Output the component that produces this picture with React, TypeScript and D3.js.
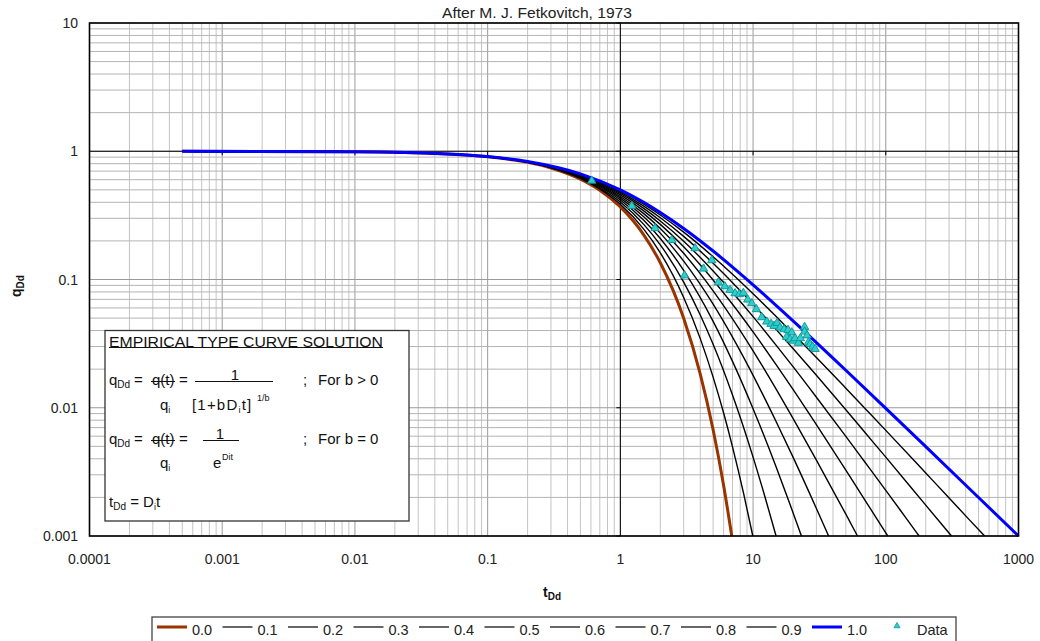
import React from "react";
import * as d3 from "d3";

// Arps type curves: [tDd, qDd] pairs for each b value
const bLabels = ["0.0", "0.1", "0.2", "0.3", "0.4", "0.5", "0.6", "0.7", "0.8", "0.9", "1.0"];

const curve00: [number, number][] = [
  [0.0005, 1], [0.01, 0.99], [0.05, 0.951], [0.1, 0.905], [0.2, 0.819], [0.3, 0.741], [0.5, 0.607],
  [0.7, 0.497], [1, 0.368], [1.5, 0.223], [2, 0.135], [3, 0.0498], [4, 0.0183], [5, 0.00674],
  [6, 0.00248], [6.908, 0.001],
];
const curve01: [number, number][] = [
  [0.0005, 1], [0.01, 0.99], [0.05, 0.951], [0.1, 0.905], [0.2, 0.82], [0.3, 0.744], [0.5, 0.614],
  [0.7, 0.508], [1, 0.386], [1.5, 0.247], [2, 0.1615], [3, 0.0725], [4, 0.0346], [5, 0.01734],
  [6, 0.0091], [7, 0.00496], [8.5, 0.00213], [9.953, 0.001],
];
const curve02: [number, number][] = [
  [0.0005, 1], [0.01, 0.99], [0.05, 0.951], [0.1, 0.905], [0.2, 0.822], [0.5, 0.621], [1, 0.402],
  [1.5, 0.269], [2, 0.186], [3, 0.0954], [4, 0.0529], [5, 0.03125], [7, 0.01256], [10, 0.00412],
  [12.5, 0.0019], [14.905, 0.001],
];
const curve03: [number, number][] = [
  [0.0005, 1], [0.01, 0.99], [0.05, 0.951], [0.1, 0.906], [0.2, 0.823], [0.5, 0.628], [1, 0.417],
  [1.5, 0.29], [2, 0.209], [3, 0.1177], [5, 0.0472], [7, 0.023], [10, 0.00984], [15, 0.00341],
  [19, 0.00176], [23.14, 0.001],
];
const curve04: [number, number][] = [
  [0.0005, 1], [0.01, 0.99], [0.05, 0.951], [0.1, 0.906], [0.2, 0.825], [0.5, 0.634], [1, 0.431],
  [1.5, 0.309], [2, 0.23], [3, 0.139], [5, 0.0642], [7, 0.0355], [10, 0.0179], [15, 0.00771],
  [20, 0.00412], [30, 0.00164], [37.1, 0.001],
];
const curve05: [number, number][] = [
  [0.0005, 1], [0.01, 0.99], [0.05, 0.952], [0.1, 0.907], [0.2, 0.826], [0.5, 0.64], [1, 0.444],
  [1.5, 0.3265], [2, 0.25], [3, 0.16], [5, 0.0816], [7, 0.0494], [10, 0.0278], [15, 0.01384],
  [20, 0.00826], [30, 0.00391], [50, 0.00148], [61.2, 0.001],
];
const curve06: [number, number][] = [
  [0.0005, 1], [0.01, 0.99], [0.05, 0.952], [0.1, 0.907], [0.2, 0.828], [0.5, 0.646], [1, 0.457],
  [1.5, 0.343], [2, 0.269], [3, 0.18], [5, 0.0992], [7, 0.0641], [10, 0.039], [15, 0.0215],
  [20, 0.01392], [30, 0.00739], [50, 0.00327], [70, 0.00189], [103.5, 0.001],
];
const curve07: [number, number][] = [
  [0.0005, 1], [0.01, 0.99], [0.05, 0.952], [0.1, 0.908], [0.2, 0.829], [0.5, 0.651], [1, 0.469],
  [1.5, 0.359], [2, 0.286], [3, 0.199], [5, 0.1166], [7, 0.0792], [10, 0.0513], [15, 0.0305],
  [20, 0.0209], [30, 0.01208], [50, 0.00598], [70, 0.00374], [100, 0.00227], [140, 0.00141],
  [178.4, 0.001],
];
const curve08: [number, number][] = [
  [0.0005, 1], [0.01, 0.99], [0.05, 0.952], [0.1, 0.908], [0.2, 0.831], [0.5, 0.657], [1, 0.48],
  [1.5, 0.373], [2, 0.303], [3, 0.217], [5, 0.1337], [7, 0.0945], [10, 0.0642], [15, 0.0405],
  [20, 0.029], [30, 0.0179], [50, 0.00964], [70, 0.00638], [100, 0.00412], [200, 0.00174],
  [312.7, 0.001],
];
const curve09: [number, number][] = [
  [0.0005, 1], [0.01, 0.99], [0.05, 0.952], [0.1, 0.909], [0.2, 0.832], [0.5, 0.662], [1, 0.49],
  [1.5, 0.387], [2, 0.3185], [3, 0.234], [5, 0.1505], [7, 0.1099], [10, 0.0774], [15, 0.0512],
  [20, 0.0379], [30, 0.0247], [50, 0.01421], [70, 0.00984], [100, 0.00666], [200, 0.0031],
  [300, 0.00198], [420, 0.00136], [555.8, 0.001],
];
const curve10: [number, number][] = [
  [0.0005, 1], [0.01, 0.99], [0.05, 0.952], [0.1, 0.909], [0.2, 0.833], [0.5, 0.667], [1, 0.5],
  [1.5, 0.4], [2, 0.333], [3, 0.25], [5, 0.1667], [7, 0.125], [10, 0.0909], [20, 0.0476],
  [50, 0.0196], [100, 0.0099], [200, 0.004975], [500, 0.001996], [1000, 0.001],
];
const typeCurves = [curve00, curve01, curve02, curve03, curve04, curve05, curve06, curve07, curve08, curve09, curve10];

// well data (triangles)
const dataT = [
  0.609, 1.219, 1.826, 2.44, 3.656, 4.885, 4.236, 3.046, 5.476, 6.12, 6.71, 7.32, 7.88, 8.45,
  9.12, 9.78, 10.59, 11.63, 12.69, 13.66, 14.39, 15.17, 15.98, 17.13, 18.35, 19.56, 17.88, 19.0,
  20.12, 20.72, 21.95, 22.72, 24.44, 24.44, 25.52, 26.11, 26.9, 28.08, 29.33,
];
const dataQ = [
  0.589, 0.374, 0.251, 0.203, 0.175, 0.141, 0.1214, 0.1074, 0.0948, 0.0885, 0.0828, 0.078, 0.0767,
  0.0785, 0.0696, 0.0652, 0.0586, 0.0507, 0.0469, 0.045, 0.0434, 0.0458, 0.0421, 0.0409, 0.0404,
  0.0386, 0.0356, 0.0342, 0.0333, 0.0348, 0.032, 0.0348, 0.0426, 0.0392, 0.0366, 0.0323, 0.0314,
  0.0299, 0.0287,
];

const xTickValues = [0.0001, 0.001, 0.01, 0.1, 1, 10, 100, 1000];
const xTickLabels = ["0.0001", "0.001", "0.01", "0.1", "1", "10", "100", "1000"];
const yTickValues = [0.001, 0.01, 0.1, 1, 10];
const yTickLabels = ["0.001", "0.01", "0.1", "1", "10"];

const W = 1040;
const H = 641;
const plot = { left: 89.5, right: 1018.5, top: 23, bottom: 536 };
const FONT = "'Liberation Sans', Arial, sans-serif";

const curveColor = (i: number) => (i === 0 ? "#993300" : i === 10 ? "#0000ff" : "#000000");
const curveWidth = (i: number) => (i === 0 || i === 10 ? 3 : 1.4);

export default function App() {
  const x = d3.scaleLog().domain([1e-4, 1e3]).range([plot.left, plot.right]);
  const y = d3.scaleLog().domain([1e-3, 10]).range([plot.bottom, plot.top]);

  const line = d3
    .line<[number, number]>()
    .x((d) => x(d[0]))
    .y((d) => y(d[1]))
    .curve(d3.curveMonotoneX);

  const tri = d3.symbol().type(d3.symbolTriangle).size(30)();
  const triSmall = d3.symbol().type(d3.symbolTriangle).size(16)();

  const xGrid = x.ticks();
  const yGrid = y.ticks();
  const isMajor = (v: number) => Math.abs(Math.log10(v) - Math.round(Math.log10(v))) < 1e-6;

  const legendX0 = 157;
  const legendStep = 65.5;
  const legendY = 627;

  return (
    <svg width={W} height={H} style={{ position: "absolute", left: 0, top: 0, background: "#fff" }} fontFamily={FONT}>
      <rect x={0} y={0} width={W} height={H} fill="#fff" />
      {/* title */}
      <text x={537} y={18} fontSize={14.5} textAnchor="middle" fill="#222" textLength={190} lengthAdjust="spacingAndGlyphs">
        After M. J. Fetkovitch, 1973
      </text>

      {/* grid */}
      <g>
        {xGrid.map((v, i) => (
          <line key={"xg" + i} x1={x(v)} x2={x(v)} y1={plot.top} y2={plot.bottom}
            stroke={isMajor(v) ? "#9a9a9a" : "#c4c4c4"} strokeWidth={1} />
        ))}
        {yGrid.map((v, i) => (
          <line key={"yg" + i} x1={plot.left} x2={plot.right} y1={y(v)} y2={y(v)}
            stroke={isMajor(v) ? "#9a9a9a" : "#b4b4b4"} strokeWidth={1} />
        ))}
      </g>

      {/* axes crossing at 1 */}
      <line x1={x(1)} x2={x(1)} y1={plot.top} y2={plot.bottom} stroke="#000" strokeWidth={1} />
      <line x1={plot.left} x2={plot.right} y1={y(1)} y2={y(1)} stroke="#000" strokeWidth={1} />
      {xTickValues.map((v, i) => (
        <line key={"xt" + i} x1={x(v)} x2={x(v)} y1={y(1)} y2={y(1) + 4} stroke="#000" strokeWidth={1} />
      ))}
      {yTickValues.map((v, i) => (
        <line key={"yt" + i} x1={x(1) - 4} x2={x(1)} y1={y(v)} y2={y(v)} stroke="#000" strokeWidth={1} />
      ))}

      {/* type curves */}
      {typeCurves.map((c, i) => (
        <path key={"c" + i} d={line(c) || ""} fill="none" stroke={curveColor(i)} strokeWidth={curveWidth(i)} />
      ))}

      {/* data */}
      {dataT.map((t, i) => (
        <path key={"d" + i} d={tri || ""} transform={`translate(${x(t)},${y(dataQ[i])})`}
          fill="#33cccc" stroke="#0b9c9c" strokeWidth={1} />
      ))}

      {/* plot border */}
      <rect x={plot.left} y={plot.top} width={plot.right - plot.left} height={plot.bottom - plot.top}
        fill="none" stroke="#000" strokeWidth={1.6} />

      {/* text box */}
      <g fill="#111" fontSize={15}>
        <rect x={105} y={330.5} width={304} height={190.5} fill="#fff" stroke="#333" strokeWidth={1.3} />
        <text x={109} y={347} fontSize={14} textLength={274} lengthAdjust="spacingAndGlyphs">EMPIRICAL TYPE CURVE SOLUTION</text>
        <line x1={109} x2={383} y1={347.5} y2={347.5} stroke="#111" strokeWidth={1} />

        <text x={109} y={385}>q<tspan fontSize={10} dy={3}>Dd</tspan></text>
        <text x={134} y={385}>=</text>
        <text x={152} y={385}>q(t)</text>
        <line x1={151} x2={175} y1={381.5} y2={381.5} stroke="#111" strokeWidth={1} />
        <text x={179} y={385}>=</text>
        <line x1={195} x2={273} y1={381.5} y2={381.5} stroke="#111" strokeWidth={1} />
        <text x={235} y={380} textAnchor="middle">1</text>
        <text x={303} y={385}>;</text>
        <text x={318} y={385}>For b &gt; 0</text>
        <text x={160} y={410}>q<tspan fontSize={9} dy={3}>i</tspan></text>
        <text x={192} y={410} letterSpacing={1.2}>[1+bD<tspan fontSize={9} dy={3}>i</tspan><tspan dy={-3}>t]</tspan></text>
        <text x={257} y={401} fontSize={9}>1/b</text>

        <text x={109} y={444}>q<tspan fontSize={10} dy={3}>Dd</tspan></text>
        <text x={134} y={444}>=</text>
        <text x={152} y={444}>q(t)</text>
        <line x1={151} x2={175} y1={440.5} y2={440.5} stroke="#111" strokeWidth={1} />
        <text x={179} y={444}>=</text>
        <line x1={203} x2={239} y1={440.5} y2={440.5} stroke="#111" strokeWidth={1} />
        <text x={220} y={439} textAnchor="middle">1</text>
        <text x={303} y={444}>;</text>
        <text x={318} y={444}>For b = 0</text>
        <text x={160} y={468}>q<tspan fontSize={9} dy={3}>i</tspan></text>
        <text x={213} y={468}>e</text>
        <text x={222} y={460} fontSize={9}>Dit</text>

        <text x={109} y={507}>t<tspan fontSize={10} dy={3}>Dd</tspan><tspan dy={-3}> = D</tspan><tspan fontSize={9} dy={3}>i</tspan><tspan dy={-3}>t</tspan></text>
      </g>

      {/* tick labels */}
      <g fontSize={14} fill="#222">
        {xTickValues.map((v, i) => (
          <text key={"xl" + i} x={x(v)} y={564} textAnchor="middle">{xTickLabels[i]}</text>
        ))}
        {yTickValues.map((v, i) => (
          <text key={"yl" + i} x={78} y={y(v) + 5} textAnchor="end">{yTickLabels[i]}</text>
        ))}
      </g>

      {/* axis titles */}
      <text x={543} y={597} fontSize={14} fontWeight="bold" fill="#111">
        t<tspan fontSize={10} dy={3}>Dd</tspan>
      </text>
      <text transform="translate(21,297) rotate(-90)" fontSize={14} fontWeight="bold" fill="#111">
        q<tspan fontSize={10} dy={3}>Dd</tspan>
      </text>

      {/* legend */}
      <rect x={152} y={617} width={804} height={30} fill="#fff" stroke="#444" strokeWidth={1.3} />
      <g fontSize={14.5} fill="#222">
        {bLabels.map((lab, i) => (
          <g key={"lg" + i}>
            <line x1={legendX0 + i * legendStep} x2={legendX0 + i * legendStep + 30} y1={legendY} y2={legendY}
              stroke={curveColor(i)} strokeWidth={i === 0 || i === 10 ? 3 : 1.2} />
            <text x={legendX0 + i * legendStep + 35} y={635}>{lab}</text>
          </g>
        ))}
        <path d={triSmall || ""} transform={`translate(897,${legendY - 1})`} fill="#33cccc" stroke="#0b9c9c" strokeWidth={0.8} />
        <text x={917} y={635}>Data</text>
      </g>
    </svg>
  );
}
